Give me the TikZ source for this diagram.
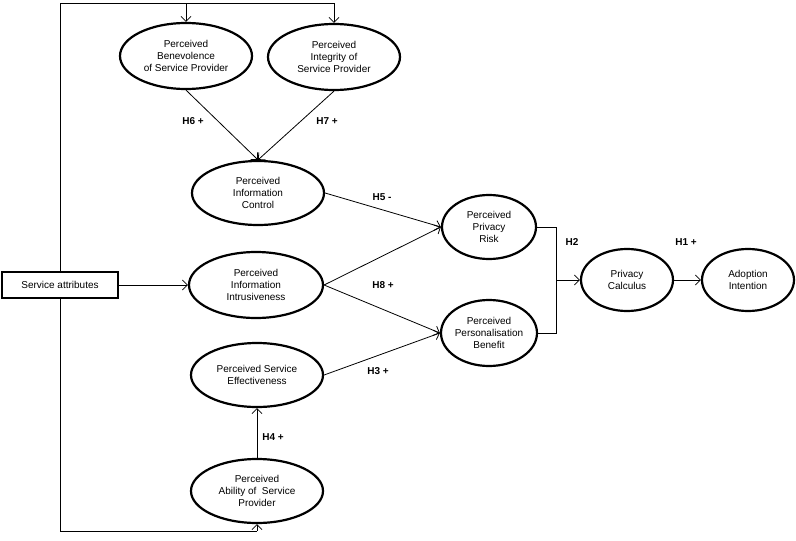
\documentclass[tikz,border=0pt]{standalone}
\usepackage{fontspec}
\setmainfont{Liberation Sans}
\usetikzlibrary{shapes.geometric,arrows.meta}
\begin{document}
\begin{tikzpicture}[x=1pt,y=-1pt,
  font=\fontsize{10}{12}\selectfont,
  ell/.style={ellipse,draw,line width=2.2pt,inner sep=0pt,minimum width=#1},
  ell/.default=132,
  txt/.style={align=center,inner sep=0pt},
  conn/.style={line width=0.8pt,-{Straight Barb[length=5pt,width=10pt]}},
  plain/.style={line width=0.8pt},
  hlab/.style={font=\fontsize{10}{12}\selectfont\bfseries,inner sep=0pt}]
\useasboundingbox (0,0) rectangle (796,541);
% ellipses
\node[ell, minimum height=66] (ben) at (186,56) {};
\node[txt] at (ben) {Perceived\\Benevolence\\of Service Provider};
\node[ell, minimum height=66] (int) at (334,57) {};
\node[txt] at (int) {Perceived\\Integrity of\\Service Provider};
\node[ell, minimum height=64] (ctl) at (258,193) {};
\node[txt] at (ctl) {Perceived\\Information\\Control};
\node[ell=134, minimum height=66] (intr) at (256,285) {};
\node[txt] at (intr) {Perceived\\Information\\Intrusiveness};
\node[ell, minimum height=64] (eff) at (257,375) {};
\node[txt] at (eff) {Perceived Service\\Effectiveness};
\node[ell, minimum height=64] (abl) at (257,491) {};
\node[txt] at (abl) {Perceived\\Ability of~ Service\\Provider};
\node[ell=94, minimum height=64] (risk) at (489,227) {};
\node[txt] at (risk) {Perceived\\Privacy\\Risk};
\node[ell=96, minimum height=66] (pb) at (489,333) {};
\node[txt] at (pb) {Perceived\\Personalisation\\Benefit};
\node[ell=92, minimum height=62] (calc) at (627,280) {};
\node[txt] at (calc) {Privacy\\Calculus};
\node[ell=92, minimum height=62] (adopt) at (748,280) {};
\node[txt] at (adopt) {Adoption\\Intention};
% box
\node[draw,line width=2.2pt,minimum width=116,minimum height=26,inner sep=0pt] (sa) at (60,285) {Service attributes};
% coordinates
\coordinate (tl) at (60,3);
\coordinate (tb) at (186,3);
\coordinate (tr) at (334,3);
\coordinate (bl) at (60,531);
\coordinate (br) at (257,531);
\coordinate (jt) at (556,227);
\coordinate (jb) at (556,333);
\coordinate (jm) at (556,280);
% frame
\draw[plain] (sa.north) -- (tl) -- (tr);
\draw[conn] (tb) -- (ben.north);
\draw[conn] (tr) -- (int.north);
\draw[plain] (sa.south) -- (bl) -- (br);
\draw[conn] (br) -- (abl.south);
\draw[conn] (sa.east) -- (intr.west);
% connectors
\draw[conn] (ben.south) -- (ctl.north);
\draw[conn] (int.south) -- (ctl.north);
\draw[conn] (ctl.east) -- (risk.west);
\draw[conn] (intr.east) -- (risk.west);
\draw[conn] (intr.east) -- (pb.west);
\draw[conn] (eff.east) -- (pb.west);
\draw[conn] (abl.north) -- (eff.south);
\draw[plain] (risk.east) -- (jt) -- (jb) -- (pb.east);
\draw[conn] (jm) -- (calc.west);
\draw[conn] (calc.east) -- (adopt.west);
% labels
\node[hlab] (h6) at (193,121) {H6 +};
\node[hlab] (h7) at (327,121) {H7 +};
\node[hlab] (h5) at (382,197) {H5 -};
\node[hlab] (h8) at (383,285) {H8 +};
\node[hlab] (h3) at (378,371) {H3 +};
\node[hlab] (h4) at (273,437) {H4 +};
\node[hlab] (h2) at (572,242) {H2};
\node[hlab] (h1) at (686,242) {H1 +};
\end{tikzpicture}
\end{document}
